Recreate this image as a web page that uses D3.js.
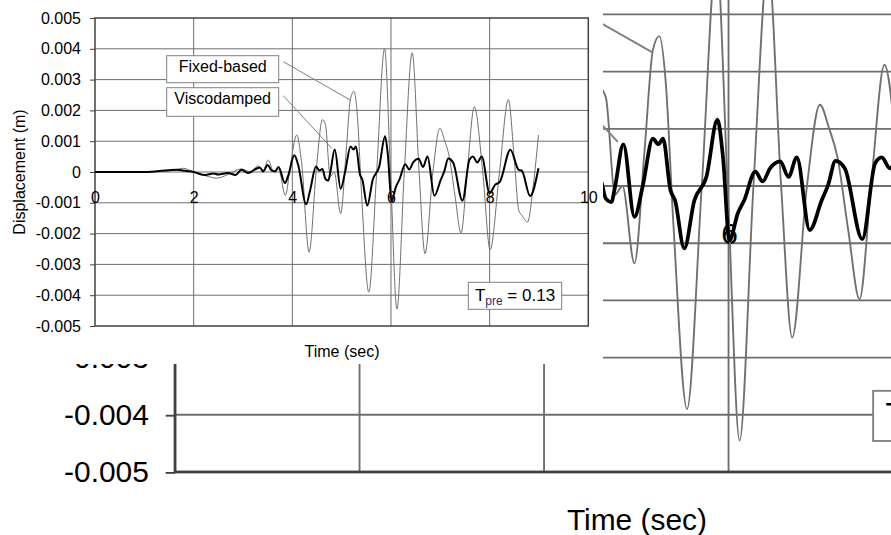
<!DOCTYPE html>
<html>
<head>
<meta charset="utf-8">
<script src="https://cdn.jsdelivr.net/npm/d3@7"></script>
<style>
  body { margin: 0; background: #fff; }
  svg { display: block; font-family: "Liberation Sans", Arial, sans-serif; }
</style>
</head>
<body>
<script>
'use strict';

// tick values
const timeTicks = [0, 2, 4, 6, 8, 10]
const dispTicks = [-0.005, -0.004, -0.003, -0.002, -0.001, 0, 0.001, 0.002, 0.003, 0.004, 0.005]

const seriesNames = ['Fixed-based', 'Viscodamped']
const periodValue = '0.13'

// Fixed-based response
const fixedTime = [0, 1.0, 1.3, 1.6, 1.79, 2.0, 2.2, 2.47, 2.7, 2.97, 3.15, 3.31, 3.41, 3.51, 3.62, 3.72,
  3.86, 3.96, 4.09, 4.19, 4.34, 4.49, 4.61, 4.67, 4.77, 4.85, 4.98, 5.09, 5.18, 5.25, 5.32, 5.40,
  5.55, 5.71, 5.87, 5.99, 6.12, 6.27, 6.43, 6.57, 6.69, 6.85, 6.99, 7.09, 7.18, 7.3, 7.42, 7.55,
  7.69, 7.86, 8.01, 8.2, 8.38, 8.5, 8.59, 8.65, 8.77, 8.88, 8.99]
const fixedDisp = [0, 0, 0.00002, 0.00006, 0.00012, 0, -0.0001, -0.0002, -0.00008, 0.0001, 0, 0.0002, 0.00005, 0.00039, 0.00002, 0.0001,
  -0.00076, 0.0002, 0.0012, 0.00027, -0.0026, 0.00015, 0.0017, 0.00155, -0.00015, 0, -0.00135, 0.00063, 0.00238, 0.00262, 0.0018, -0.0006,
  -0.0039, 0, 0.004, 0, -0.00445, 0, 0.00387, 0, -0.00265, 0, 0.00142, 0.00101, 0.00051, -0.0008, -0.00198, 0.0001,
  0.00212, 0, -0.00252, 0, 0.00235, 0.0004, -0.00124, -0.0014, -0.00162, -0.0005, 0.0012]

// Viscodamped response
const viscoTime = [0, 1.0, 1.3, 1.65, 1.85, 2.0, 2.23, 2.4, 2.5, 2.7, 2.85, 2.97, 3.1, 3.34, 3.41, 3.5,
  3.58, 3.65, 3.72, 3.85, 3.92, 4.04, 4.12, 4.28, 4.36, 4.48, 4.55, 4.61, 4.67, 4.73, 4.77, 4.86,
  4.98, 5.07, 5.18, 5.24, 5.29, 5.37, 5.42, 5.52, 5.63, 5.76, 5.88, 5.94, 6.01, 6.1, 6.17, 6.29,
  6.37, 6.45, 6.56, 6.65, 6.74, 6.88, 7.01, 7.08, 7.16, 7.26, 7.45, 7.59, 7.66, 7.75, 7.84, 8.0,
  8.11, 8.21, 8.42, 8.59, 8.65, 8.82, 8.99]
const viscoDisp = [0, 0, 0.00003, 0.00007, 0.00003, 0, -0.0001, -0.00005, -0.00008, -0.00003, -0.0001, 0.00007, -0.00003, 0.00015, 0.00002, 0.00023,
  0.00005, 0.00002, 0.00016, -0.00036, -0.0001, 0.00054, 0.00022, -0.00105, -0.0006, 0.00018, 0.00005, 0.0001, -0.00022, -0.00028, -0.00001, 0.00073,
  -0.00054, 0, 0.00083, 0.00073, 0.00083, -0.00007, -0.00025, -0.00109, -0.00025, 0.00016, 0.00116, 0.0005, -0.00095, -0.00048, -0.00025, 0.00025,
  0.00008, 0.00031, 0.00043, 0.00016, 0.0005, -0.00077, -0.00025, 0.00002, 0.00044, 0.00031, -0.00093, 0.0004, 0.0005, 0.00031, 0.0005, -0.00069,
  -0.00042, -0.00031, 0.00072, 0.00007, 0.00005, -0.00078, 0.00012]

const W = 891
const H = 535
const m = { left: 95, right: 588.3, top: 18, bottom: 326 }
const panel = { width: 603, height: 364 }

const svg = d3.select('body')
  .append('svg')
  .attr('width', W)
  .attr('height', H)

// enlarged copy of the same chart behind
const big = svg.append('g').attr('transform', 'translate(-2.6,-133.4) scale(1.87,1.857)')
drawChart(big)

// texts of the big copy that end up fully under the front panel or off the page are not needed
big.selectAll('text').each(function() {
  const b = this.getBoundingClientRect()
  const covered = b.right <= panel.width && b.bottom <= panel.height
  const outside = b.left >= W || b.top >= H || b.bottom <= 0
  if (covered || outside) d3.select(this).remove()
})

// white panel under the small chart
svg.append('rect')
  .attr('x', 0)
  .attr('y', 0)
  .attr('width', panel.width)
  .attr('height', panel.height)
  .attr('fill', '#fff')

drawChart(svg.append('g'))


function drawChart(g) {
  const x = d3.scaleLinear().domain([0, 10]).range([m.left, m.right])
  const y = d3.scaleLinear().domain([-0.005, 0.005]).range([m.bottom, m.top])

  g.append('rect')
    .attr('x', m.left)
    .attr('y', m.top)
    .attr('width', m.right - m.left)
    .attr('height', m.bottom - m.top)
    .attr('fill', '#fff')

  // grid
  g.selectAll('.hgrid')
    .data(dispTicks.slice(1, -1))
    .enter().append('line')
      .attr('x1', m.left)
      .attr('x2', m.right)
      .attr('y1', (d) => y(d))
      .attr('y2', (d) => y(d))
      .style('stroke', '#6e6e6e')
      .style('stroke-width', 1)

  g.selectAll('.vgrid')
    .data(timeTicks.slice(1, -1))
    .enter().append('line')
      .attr('x1', (d) => x(d))
      .attr('x2', (d) => x(d))
      .attr('y1', m.top)
      .attr('y2', m.bottom)
      .style('stroke', '#6e6e6e')
      .style('stroke-width', 1)

  g.append('rect')
    .attr('x', m.left)
    .attr('y', m.top)
    .attr('width', m.right - m.left)
    .attr('height', m.bottom - m.top)
    .attr('fill', 'none')
    .style('stroke', '#404040')
    .style('stroke-width', 1.5)

  // y axis
  const yAxis = d3.axisLeft(y)
    .tickValues(dispTicks)
    .tickSize(5)
    .tickPadding(9)
    .tickFormat((d) => d === 0 ? '0' : d.toFixed(3))
  const ya = g.append('g')
    .attr('transform', 'translate(' + m.left + ',0)')
    .call(yAxis)
  ya.select('.domain').remove()
  ya.selectAll('line').style('stroke', '#404040')
  ya.selectAll('text').style('font-size', '16px').style('fill', '#000')
  ya.attr('font-family', null)

  // x axis labels sit on the zero line
  const xAxis = d3.axisBottom(x)
    .tickValues(timeTicks)
    .tickSize(0)
    .tickPadding(20)
  const xa = g.append('g')
    .attr('transform', 'translate(0,' + y(0) + ')')
    .call(xAxis)
  xa.select('.domain').remove()
  xa.selectAll('text').style('font-size', '16px').style('fill', '#000')
  xa.attr('font-family', null)

  // series
  const line = d3.line()
    .x((d) => x(d[0]))
    .y((d) => y(d[1]))
    .curve(d3.curveMonotoneX)

  g.append('path')
    .datum(d3.zip(fixedTime, fixedDisp))
    .attr('d', line)
    .attr('fill', 'none')
    .style('stroke', '#707070')
    .style('stroke-width', 1)

  g.append('path')
    .datum(d3.zip(viscoTime, viscoDisp))
    .attr('d', line)
    .attr('fill', 'none')
    .style('stroke', '#000')
    .style('stroke-width', 2)
    .style('stroke-linejoin', 'round')

  // labels with leader lines
  const labels = [
    { name: seriesNames[0], box: [166.7, 55.7, 112, 27], from: [283.3, 61.7], at: [5.17, 0.00234], base: 72 },
    { name: seriesNames[1], box: [166.7, 87.7, 112, 28.6], from: [283.3, 95.7], at: [4.80, 0.00077], base: 104 }
  ]
  labels.forEach((l) => {
    g.append('line')
      .attr('x1', l.from[0])
      .attr('y1', l.from[1])
      .attr('x2', x(l.at[0]))
      .attr('y2', y(l.at[1]))
      .style('stroke', '#808080')
      .style('stroke-width', 1)
    g.append('rect')
      .attr('x', l.box[0])
      .attr('y', l.box[1])
      .attr('width', l.box[2])
      .attr('height', l.box[3])
      .attr('fill', '#fff')
      .style('stroke', '#808080')
      .style('stroke-width', 1)
    g.append('text')
      .attr('x', l.box[0] + l.box[2] / 2)
      .attr('y', l.base)
      .attr('text-anchor', 'middle')
      .style('font-size', '16px')
      .text(l.name)
  })

  // period box
  g.append('rect')
    .attr('x', 468.3)
    .attr('y', 282.3)
    .attr('width', 93.4)
    .attr('height', 27)
    .attr('fill', '#fff')
    .style('stroke', '#808080')
    .style('stroke-width', 1)
  const t = g.append('text')
    .attr('x', 515)
    .attr('y', 300.5)
    .attr('text-anchor', 'middle')
    .style('font-size', '17px')
  t.append('tspan').text('T')
  t.append('tspan').attr('dy', 4).style('font-size', '12px').style('fill', '#1f2f6b').text('pre')
  t.append('tspan').attr('dy', -4).text(' = ' + periodValue)

  // axis titles
  g.append('text')
    .attr('transform', 'translate(25,172)rotate(-90)')
    .attr('text-anchor', 'middle')
    .style('font-size', '16px')
    .text('Displacement (m)')

  g.append('text')
    .attr('x', 342)
    .attr('y', 357)
    .attr('text-anchor', 'middle')
    .style('font-size', '16px')
    .text('Time (sec)')
}
</script>
</body>
</html>
